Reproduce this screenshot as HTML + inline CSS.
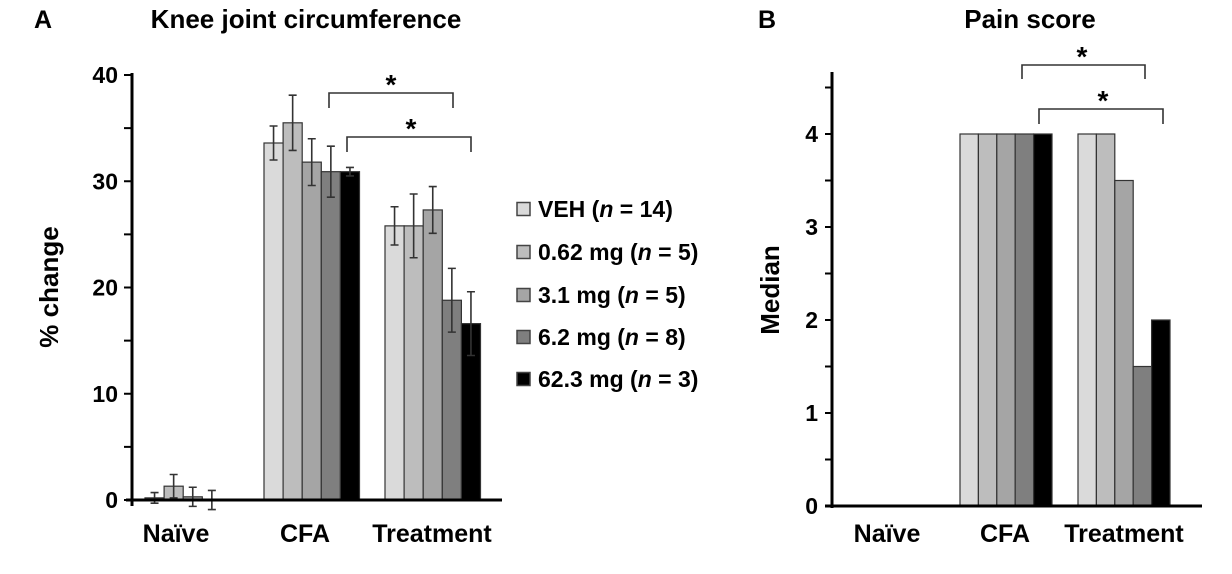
<!DOCTYPE html>
<html><head><meta charset="utf-8"><style>
html,body{margin:0;padding:0;background:#fff;}
svg{display:block;font-family:"Liberation Sans",Arial,sans-serif;font-weight:bold;}
</style></head><body>
<svg id="fig" width="1232" height="574" viewBox="0 0 1232 574">
<text x="34" y="28" font-size="25">A</text>
<text x="306" y="28" font-size="26" text-anchor="middle">Knee joint circumference</text>
<text x="758" y="28" font-size="25">B</text>
<text x="1030" y="28" font-size="26" text-anchor="middle">Pain score</text>
<text transform="translate(58,287) rotate(-90)" font-size="26" text-anchor="middle">% change</text>
<text transform="translate(779,290) rotate(-90)" font-size="26" text-anchor="middle">Median</text>
<g id="ga"></g>
<g id="gb"></g>
<g id="legend"></g>
</svg>
<script>
const groups = ["Naïve","CFA","Treatment"];
const seriesNames = ["VEH","0.62 mg","3.1 mg","6.2 mg","62.3 mg"];
const seriesN = ["14","5","5","8","3"];
const colors = ["#dadada","#bdbdbd","#a5a5a5","#7f7f7f","#000000"];
const kneeVEH = [0.2, 33.6, 25.8];
const knee062 = [1.3, 35.5, 25.8];
const knee31 = [0.3, 31.8, 27.3];
const knee62 = [0.0, 30.9, 18.8];
const knee623 = [0.0, 30.9, 16.6];
const kneeErrVEH = [0.5, 1.6, 1.8];
const kneeErr062 = [1.1, 2.6, 3.0];
const kneeErr31 = [0.9, 2.2, 2.2];
const kneeErr62 = [0.9, 2.4, 3.0];
const kneeErr623 = [0.0, 0.4, 3.0];
const painVEH = [0, 4, 4];
const pain062 = [0, 4, 4];
const pain31 = [0, 4, 3.5];
const pain62 = [0, 4, 1.5];
const pain623 = [0, 4, 2];
const kneeTicks = [0,10,20,30,40];
const painTicks = [0,1,2,3,4];

const NS="http://www.w3.org/2000/svg";
function mk(parent,tag,attrs,text){const e=document.createElementNS(NS,tag);for(const k in attrs)e.setAttribute(k,attrs[k]);if(text!==undefined)e.textContent=text;parent.appendChild(e);return e;}

// Panel A
const ga=document.getElementById('ga');
const yA=v=>500-v*10.625;
const groupStartA=[145,264,385];
const bw=19.1;
const xA=(g,s)=>groupStartA[g]+s*bw;
const kneeVals=[kneeVEH,knee062,knee31,knee62,knee623];
const kneeErrs=[kneeErrVEH,kneeErr062,kneeErr31,kneeErr62,kneeErr623];
for(let g=0;g<3;g++){for(let s=0;s<5;s++){
  const v=kneeVals[s][g],x=xA(g,s);
  const r=mk(ga,'rect',{x:x,y:Math.min(yA(v),yA(0)),width:bw,height:Math.abs(yA(0)-yA(v)),fill:colors[s],stroke:'#333','stroke-width':1.2});
  
  
  const e=kneeErrs[s][g];
  if(e>0){const cx=x+bw/2;
    const eb=mk(ga,'path',{d:`M${cx} ${yA(v+e)}V${yA(v-e)}M${cx-4} ${yA(v+e)}H${cx+4}M${cx-4} ${yA(v-e)}H${cx+4}`,stroke:'#333','stroke-width':1.6,fill:'none'});
    
    }
}}
mk(ga,'path',{d:`M132 ${yA(40)-2}V${yA(0)+6}M126 ${yA(0)}H502`,stroke:'#000','stroke-width':3,fill:'none'});
for(let t=0;t<=40;t+=5){mk(ga,'path',{d:`M124 ${yA(t)}H132`,stroke:'#000','stroke-width':2});}
kneeTicks.forEach(t=>{const tl=mk(ga,'text',{x:118,y:yA(t)+8,'font-size':23,'text-anchor':'end'},t);
  
  });
const gxA=[176,305,432];
groups.forEach((n,i)=>{const tl=mk(ga,'text',{x:gxA[i],y:542,'font-size':25,'text-anchor':'middle'},n);
  
  });
function bracket(p,x1,x2,y,d,sx,sy,name){const b=mk(p,'path',{d:`M${x1} ${y+d}V${y}H${x2}V${y+d}`,stroke:'#333','stroke-width':1.6,fill:'none'});
  
  const s=mk(p,'text',{x:sx,y:sy,'font-size':28,'text-anchor':'middle'},'*');
  }
bracket(ga,329,453,93,15,391,94,'knee-significance-bracket-1');
bracket(ga,347,471,137,15,411,138,'knee-significance-bracket-2');

// Panel B
const gb=document.getElementById('gb');
const yB=v=>506-v*93;
const groupStartB=[870,960,1078];
const bwB=18.4;
const painVals=[painVEH,pain062,pain31,pain62,pain623];
for(let g=0;g<3;g++){for(let s=0;s<5;s++){
  const v=painVals[s][g];if(v<=0)continue;
  const r=mk(gb,'rect',{x:groupStartB[g]+s*bwB,y:yB(v),width:bwB,height:yB(0)-yB(v),fill:colors[s],stroke:'#333','stroke-width':1.2});
  
  
}}
mk(gb,'path',{d:`M832 72V${yB(0)+2}M825 ${yB(0)}H1202`,stroke:'#000','stroke-width':3,fill:'none'});
for(let t=0;t<=4.5;t+=0.5){mk(gb,'path',{d:`M825 ${yB(t)}H832`,stroke:'#000','stroke-width':2});}
painTicks.forEach(t=>{const tl=mk(gb,'text',{x:818,y:yB(t)+8,'font-size':23,'text-anchor':'end'},t);
  
  });
const gxB=[887,1005,1124];
groups.forEach((n,i)=>{const tl=mk(gb,'text',{x:gxB[i],y:542,'font-size':25,'text-anchor':'middle'},n);
  
  });
bracket(gb,1022,1145,65,14,1082,66,'pain-significance-bracket-1');
bracket(gb,1039,1163,109,15,1103,110,'pain-significance-bracket-2');

// Legend
const lg=document.getElementById('legend');
const rowsY=[209,252,295,337,379];
seriesNames.forEach((n,i)=>{
  const sq=mk(lg,'rect',{x:517,y:rowsY[i]-6.5,width:13,height:13,fill:colors[i],stroke:'#444','stroke-width':1.5});
  
  
  const t=mk(lg,'text',{x:538,y:rowsY[i]+8,'font-size':23});
  
  
  t.appendChild(document.createTextNode(n+' ('));
  mk(t,'tspan',{'font-style':'italic'},'n');
  t.appendChild(document.createTextNode(' = '+seriesN[i]+')'));
});
</script>
</body></html>
